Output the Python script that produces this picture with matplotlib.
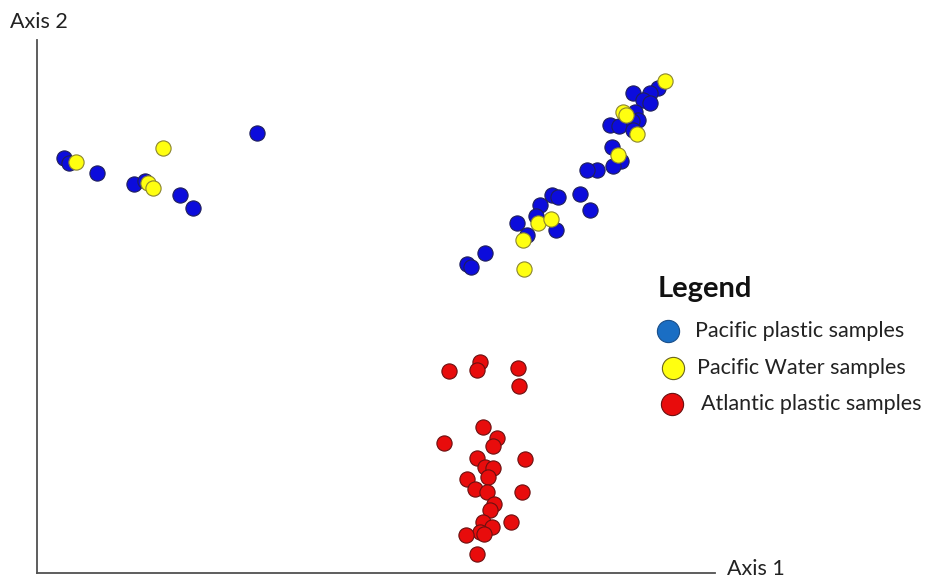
import matplotlib.pyplot as plt
from matplotlib.lines import Line2D

# ordination scores (arbitrary axis units)
pac_plastic_x = [27, 32, 60, 97, 108, 143, 156, 220,
                 621, 613, 596, 606, 613, 598, 601, 595, 573, 582, 596,
                 575, 584, 576, 560, 550, 543, 553, 515, 521, 503, 499,
                 519, 480, 490, 448, 430, 434]
pac_plastic_y = [415, 410, 400, 389, 392, 378, 365, 440,
                 485, 480, 480, 473, 470, 461, 453, 452, 448, 447, 443,
                 426, 412, 407, 403, 403, 379, 363, 378, 376, 368, 357,
                 343, 350, 338, 320, 309, 306]

pac_water_x = [39, 126, 111, 116, 628, 586, 589, 600, 581, 501, 514, 486, 487]
pac_water_y = [411, 425, 390, 385, 492, 461, 458, 439, 418, 350, 354, 333, 304]

atl_plastic_x = [412, 443, 440, 481, 482, 446, 407, 460, 456, 440, 488, 448,
                 456, 451, 430, 438, 450, 485, 457, 453, 446, 474, 455, 443,
                 447, 429, 440]
atl_plastic_y = [202, 211, 203, 205, 187, 146, 130, 135, 127, 115, 114, 106,
                 105, 96, 94, 84, 81, 81, 69, 63, 51, 51, 46, 41,
                 39, 38, 19]

legend_labels = ["Pacific plastic samples", "Pacific Water samples", "Atlantic plastic samples"]

W, H = 933, 579
fig = plt.figure(figsize=(W / 100, H / 100), dpi=100)
ax = fig.add_axes([37 / W, (H - 573) / H, (715 - 37) / W, (573 - 40) / H])
ax.set_xlim(0, 678)
ax.set_ylim(0, 533)

kw = dict(s=120, linewidths=0.8, zorder=3, clip_on=False)
ax.scatter(pac_plastic_x, pac_plastic_y, c="#0c0cdc", edgecolors="#20205a", **kw)
ax.scatter(pac_water_x, pac_water_y, c="#ffff10", edgecolors="#8a8430", **kw)
ax.scatter(atl_plastic_x, atl_plastic_y, c="#e80c0c", edgecolors="#6a1010", **kw)

for side in ["top", "right"]:
    ax.spines[side].set_visible(False)
for side in ["left", "bottom"]:
    ax.spines[side].set_color("#505050")
    ax.spines[side].set_linewidth(1.3)
ax.set_xticks([])
ax.set_yticks([])

font = "Lato"
fig.text(10 / W, 1 - 22 / H, "Axis 2", fontsize=15.5, family=font, color="#222222", va="center")
fig.text(727 / W, 1 - 569 / H, "Axis 1", fontsize=15.5, family=font, color="#222222", va="center")

# legend
fig.text(658 / W, 1 - 289 / H, "Legend", fontsize=21, fontweight="bold", family=font,
         color="#111111", va="center")
leg_colors = ["#1a6ec4", "#ffff10", "#e80c0c"]
leg_edges = ["#1a4f8a", "#6a6420", "#6a1010"]
leg_mx = [668, 673, 672]
leg_tx = [695, 697, 701]
leg_y = [331, 368, 404]
for lab, c, ec, mx, tx, yy in zip(legend_labels, leg_colors, leg_edges, leg_mx, leg_tx, leg_y):
    fig.add_artist(Line2D([mx / W], [1 - yy / H], transform=fig.transFigure, marker="o",
                          markersize=16, markerfacecolor=c, markeredgecolor=ec,
                          markeredgewidth=0.8, linestyle="none"))
    fig.text(tx / W, 1 - yy / H, lab, fontsize=15.5, family=font, color="#222222", va="center")

fig.savefig("out.png", dpi=100)
